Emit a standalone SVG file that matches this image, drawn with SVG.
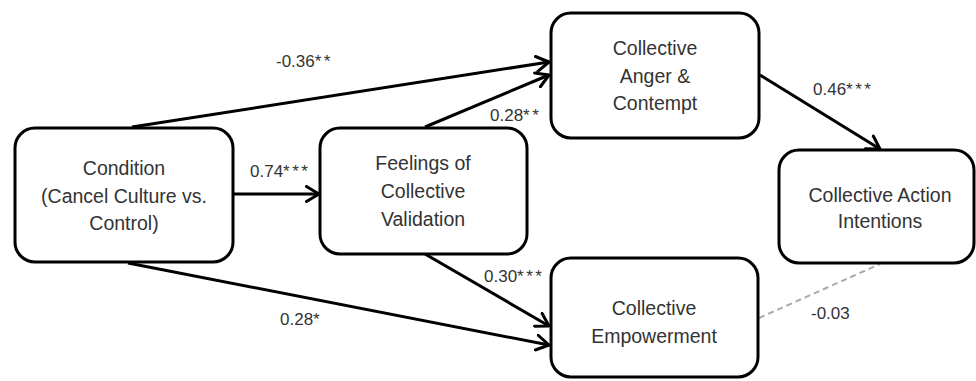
<svg xmlns="http://www.w3.org/2000/svg" width="976" height="381" viewBox="0 0 976 381">
<style>
.box{fill:#fff;stroke:#000;stroke-width:3}
.nt{font-family:"Liberation Sans",Arial,sans-serif;font-size:19.5px;fill:#333;text-anchor:middle}
.lt{font-family:"Liberation Sans",Arial,sans-serif;font-size:17px;fill:#333}
.st{letter-spacing:2.5px}
.edge{stroke:#000;stroke-width:3;fill:none;marker-end:url(#arr)}
.dash{stroke:#aaa;stroke-width:2;fill:none;stroke-dasharray:6 4}
</style>
<defs>
<marker id="arr" viewBox="0 0 16 18" refX="14" refY="9" markerWidth="16" markerHeight="18" markerUnits="userSpaceOnUse" orient="auto">
<path d="M1.5,1.5 L14,9 L1.5,16.5" fill="none" stroke="#000" stroke-width="3" stroke-linejoin="round" stroke-linecap="round"/>
</marker>
</defs>
<rect width="976" height="381" fill="#fff"/>
<g id="connectors">
<line class="edge" x1="132" y1="127" x2="549" y2="62"/>
<line class="edge" x1="425" y1="127" x2="549" y2="75"/>
<line class="edge" x1="233" y1="194" x2="319" y2="194"/>
<line class="edge" x1="760" y1="75" x2="880" y2="149"/>
<line class="edge" x1="425" y1="254" x2="549" y2="326"/>
<line class="edge" x1="128" y1="263" x2="549" y2="345"/>
<line class="dash" x1="759" y1="318" x2="880" y2="264"/>
<text class="lt" x="276" y="67">-0.36<tspan class="st">**</tspan></text>
<text class="lt" x="490" y="121">0.28<tspan class="st">**</tspan></text>
<text class="lt" x="250" y="177">0.74<tspan class="st">***</tspan></text>
<text class="lt" x="813" y="95">0.46<tspan class="st">***</tspan></text>
<text class="lt" x="484" y="282">0.30<tspan class="st">***</tspan></text>
<text class="lt" x="280" y="325">0.28<tspan class="st">*</tspan></text>
<text class="lt" x="811" y="319">-0.03</text>
</g>
<g id="condition">
<rect class="box" x="15" y="128" width="218" height="134" rx="20"/>
<text class="nt" x="124" y="175">Condition</text>
<text class="nt" x="124" y="203">(Cancel Culture vs.</text>
<text class="nt" x="124" y="230">Control)</text>
</g>
<g id="validation">
<rect class="box" x="320" y="128" width="207" height="126" rx="20"/>
<text class="nt" x="423" y="170">Feelings of</text>
<text class="nt" x="423" y="198">Collective</text>
<text class="nt" x="423" y="226">Validation</text>
</g>
<g id="anger">
<rect class="box" x="551" y="13" width="208" height="125" rx="20"/>
<text class="nt" x="655" y="55">Collective</text>
<text class="nt" x="655" y="83">Anger &amp;</text>
<text class="nt" x="655" y="110">Contempt</text>
</g>
<g id="intentions">
<rect class="box" x="779" y="150" width="195" height="113" rx="20"/>
<text class="nt" x="880" y="202">Collective Action</text>
<text class="nt" x="880" y="228">Intentions</text>
</g>
<g id="empowerment">
<rect class="box" x="551" y="258" width="207" height="119" rx="20"/>
<text class="nt" x="654" y="315">Collective</text>
<text class="nt" x="654" y="343">Empowerment</text>
</g>
</svg>
